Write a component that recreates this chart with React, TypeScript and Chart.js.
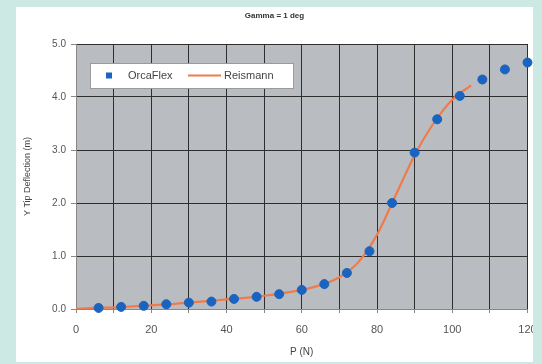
import React, { useEffect, useRef } from "react";
import { Chart, registerables } from "chart.js";

Chart.register(...registerables);

const TITLE = "Gamma = 1 deg";
const X_TITLE = "P (N)";
const Y_TITLE = "Y Tip Deflection (m)";

const orcaX = [6, 12, 18, 24, 30, 36, 42, 48, 54, 60, 66, 72, 78, 84, 90, 96, 102, 108, 114, 120];
const orcaY = [0.02, 0.04, 0.06, 0.09, 0.12, 0.14, 0.19, 0.23, 0.28, 0.36, 0.47, 0.68, 1.09, 2.0, 2.95, 3.58, 4.02, 4.33, 4.52, 4.65];

const reisX = [0, 5, 10, 15, 20, 25, 30, 35, 40, 45, 50, 55, 60, 65, 70, 75, 80, 85, 90, 95, 100, 105];
const reisY = [0, 0.02, 0.03, 0.05, 0.07, 0.09, 0.12, 0.15, 0.18, 0.21, 0.25, 0.3, 0.36, 0.45, 0.6, 0.88, 1.4, 2.15, 2.9, 3.5, 3.95, 4.22];

const BLUE = "#1a64c0";
const ORANGE = "#f07a4a";
const FONT = "'Liberation Sans', Arial, sans-serif";

const plotBg = {
  id: "plotBg",
  beforeDraw(chart: any) {
    const { ctx, chartArea: a } = chart;
    ctx.save();
    ctx.fillStyle = "#b9bdc1";
    ctx.fillRect(a.left, a.top, a.right - a.left, a.bottom - a.top);
    ctx.restore();
  },
};

const legendBox = {
  id: "legendBox",
  afterDraw(chart: any) {
    const { ctx, chartArea: a } = chart;
    const x = a.left + 14;
    const y = a.top + 19;
    const w = 203;
    const h = 25;
    ctx.save();
    ctx.fillStyle = "#ffffff";
    ctx.strokeStyle = "#9a9a9a";
    ctx.lineWidth = 1;
    ctx.fillRect(x, y, w, h);
    ctx.strokeRect(x + 0.5, y + 0.5, w, h);
    const cy = y + h / 2;
    ctx.fillStyle = BLUE;
    ctx.fillRect(x + 16, cy - 3, 6, 6);
    ctx.font = "11px " + FONT;
    ctx.fillStyle = "#444";
    ctx.textBaseline = "middle";
    ctx.fillText("OrcaFlex", x + 38, cy);
    ctx.strokeStyle = ORANGE;
    ctx.lineWidth = 2;
    ctx.beginPath();
    ctx.moveTo(x + 98, cy);
    ctx.lineTo(x + 131, cy);
    ctx.stroke();
    ctx.fillText("Reismann", x + 134, cy);
    ctx.restore();
  },
};

export default function App() {
  const ref = useRef<HTMLCanvasElement>(null);
  useEffect(() => {
    if (!ref.current) return;
    const chart = new Chart(ref.current, {
      type: "scatter",
      data: {
        datasets: [
          {
            label: "Reismann",
            data: reisX.map((x, i) => ({ x, y: reisY[i] })),
            showLine: true,
            borderColor: ORANGE,
            borderWidth: 2.2,
            pointRadius: 0,
            tension: 0.4,
            cubicInterpolationMode: "monotone",
            order: 2,
          } as any,
          {
            label: "OrcaFlex",
            data: orcaX.map((x, i) => ({ x, y: orcaY[i] })),
            backgroundColor: BLUE,
            borderColor: BLUE,
            pointRadius: 4.5,
            pointStyle: "circle",
            clip: false,
            order: 1,
          } as any,
        ],
      },
      options: {
        animation: false,
        responsive: false,
        maintainAspectRatio: false,
        layout: { padding: { left: 0, right: 0, top: 0, bottom: 0 } },
        plugins: {
          legend: { display: false },
          tooltip: { enabled: false },
          title: {
            display: true,
            text: TITLE,
            color: "#333",
            font: { family: FONT, size: 8 },
            padding: { top: 4, bottom: 23.4 },
          },
        },
        scales: {
          x: {
            type: "linear",
            min: 0,
            max: 120,
            afterFit: (s: any) => { s.height = 53; s.paddingLeft = 0; s.paddingRight = 0; },
            ticks: {
              stepSize: 10,
              autoSkip: false,
              maxRotation: 0,
              color: "#555",
              font: { family: FONT, size: 11 },
              padding: 10,
              callback: (v: any) => (Number(v) % 20 === 0 ? String(v) : ""),
            },
            grid: { color: "#2e2e2e", lineWidth: 1, tickLength: 4, tickColor: "#888" },
            border: { color: "#888" },
            title: {
              display: true,
              text: X_TITLE,
              color: "#444",
              font: { family: FONT, size: 10 },
              padding: { top: 0, bottom: 4 },
            },
          },
          y: {
            min: 0,
            max: 5,
            afterFit: (s: any) => { s.width = 60; },
            ticks: {
              stepSize: 1,
              color: "#555",
              font: { family: FONT, size: 10 },
              padding: 5,
              callback: (v: any) => Number(v).toFixed(1),
            },
            grid: { color: "#2e2e2e", lineWidth: 1, tickLength: 5, tickColor: "#888" },
            border: { color: "#888" },
            title: {
              display: true,
              text: Y_TITLE,
              color: "#444",
              font: { family: FONT, size: 9 },
              padding: { top: 6, bottom: 0 },
            },
          },
        },
      },
      plugins: [plotBg, legendBox],
    });
    return () => chart.destroy();
  }, []);

  return (
    <div style={{ position: "fixed", left: 0, top: 0, width: 542, height: 364, background: "#cde9e4" }}>
      <div style={{ position: "absolute", left: 16, top: 7, width: 517, height: 355, background: "#ffffff" }}>
        <canvas ref={ref} width={517} height={355} style={{ display: "block" }} />
      </div>
    </div>
  );
}
